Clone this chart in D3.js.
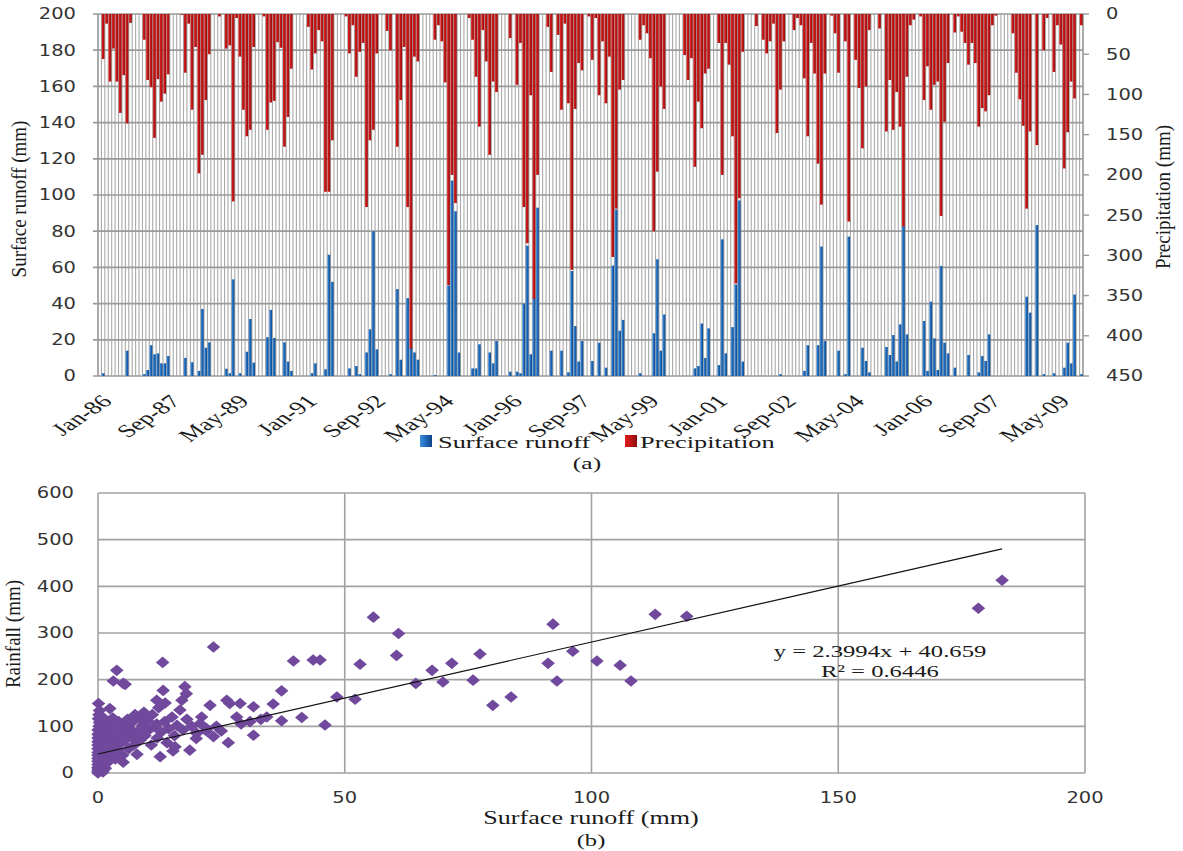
<!DOCTYPE html>
<html>
<head>
<meta charset="utf-8">
<script src="https://cdn.jsdelivr.net/npm/d3@7"></script>
<style>
  body { margin: 0; background: #fff; }
</style>
</head>
<body>
<div id="chart"></div>
<script>
// monthly data Jan-86 .. Dec-09, one line per year (Jan..Dec)
var precipitation = [
  0, 56, 12, 84, 43, 84, 123, 76, 136, 11, 0, 0,
  0, 32, 82, 91, 154, 81, 109, 99, 75, 0, 0, 0,
  1, 73, 12, 119, 41, 198, 175, 107, 50, 0, 0, 3,
  0, 43, 39, 233, 5, 53, 119, 152, 144, 41, 0, 0,
  3, 144, 110, 108, 35, 42, 165, 128, 68, 0, 0, 0,
  0, 16, 69, 49, 20, 34, 221, 221, 157, 0, 0, 0,
  3, 49, 14, 78, 47, 36, 240, 157, 144, 49, 0, 0,
  21, 45, 0, 165, 107, 41, 240, 416, 53, 59, 0, 0,
  0, 0, 32, 14, 34, 85, 337, 200, 235, 0, 0, 0,
  5, 32, 78, 140, 20, 59, 175, 84, 97, 0, 0, 0,
  30, 0, 88, 36, 240, 285, 101, 354, 200, 0, 0, 16,
  72, 0, 26, 119, 12, 111, 318, 118, 61, 70, 0, 3,
  57, 5, 101, 34, 111, 53, 302, 242, 94, 82, 0, 0,
  0, 0, 32, 14, 24, 55, 270, 196, 90, 118, 0, 0,
  0, 0, 0, 51, 82, 55, 190, 109, 142, 74, 68, 0,
  0, 36, 200, 36, 63, 152, 335, 229, 47, 0, 0, 0,
  15, 0, 32, 49, 34, 12, 148, 94, 34, 0, 0, 20,
  5, 14, 80, 152, 36, 74, 186, 237, 74, 0, 2, 24,
  73, 0, 34, 258, 0, 57, 92, 167, 90, 20, 0, 0,
  18, 0, 146, 82, 144, 97, 140, 264, 78, 14, 7, 0,
  3, 107, 65, 119, 88, 84, 251, 134, 61, 0, 23, 3,
  22, 36, 63, 36, 61, 140, 117, 121, 101, 14, 2, 0,
  0, 0, 0, 24, 73, 106, 139, 242, 146, 0, 163, 0,
  45, 5, 0, 72, 14, 38, 192, 147, 84, 105, 0, 14
];

var runoff = [
  0, 1.5, 0, 0, 0, 0, 0, 0, 14, 0, 0, 0,
  0, 1, 3.3, 17, 12, 12.5, 7, 7, 11, 0, 0, 0,
  0, 10, 0, 7.6, 0, 2.8, 37, 15.6, 18.6, 0, 0, 0,
  0, 4, 1.5, 53.4, 0, 1.5, 0, 13.4, 31.5, 7.4, 0, 0,
  0, 21.4, 36.5, 21, 0, 0, 18.6, 8, 2.8, 0, 0, 0,
  0, 0, 1.5, 7, 0, 0, 3.7, 67, 52, 0, 0, 0,
  0, 4.2, 0, 5.5, 1, 0, 13, 25.8, 80, 14.7, 0, 0,
  0, 1, 0, 48, 9, 0, 43, 15.7, 13, 9, 0, 0,
  0, 0, 0.5, 0, 0, 0, 50, 108, 91, 13, 0, 0,
  0, 4.2, 4.2, 17.5, 0, 0, 13, 7, 19.3, 0, 0, 0,
  2.4, 0, 2.4, 1.5, 40, 72, 12, 43, 93, 0, 0, 0,
  14, 0, 0, 14, 0, 2, 58, 27.6, 8, 19.3, 0, 0,
  8.3, 0, 18.4, 0, 4.6, 0, 61, 92, 25, 31, 0, 0,
  0, 0, 1.5, 0, 0, 0, 23.6, 64.5, 14, 34, 0, 0,
  0, 0, 0, 0, 0, 0, 4.2, 5.5, 29, 10, 26.3, 0,
  0, 6, 75.5, 12.5, 0, 27, 50.6, 97, 8, 0, 0, 0,
  0, 0, 0, 0, 0, 0, 0, 1, 0, 0, 0, 0,
  0, 0, 2.8, 17, 0, 0, 17, 71.5, 19.3, 0, 0, 0,
  14, 0, 1, 77, 0, 0, 0, 15.6, 8.3, 2, 0, 0,
  0, 0, 16, 11.6, 22.6, 8, 28.5, 83, 23, 0, 0, 0,
  0, 30.4, 2.8, 41, 20.8, 3.3, 60.8, 18.4, 12.5, 0, 4.6, 0,
  0, 0, 11.6, 0, 0, 2, 11, 8.3, 23, 0, 0, 0,
  0, 0, 0, 0, 0, 0, 0, 43.8, 35, 0, 83.4, 0,
  1, 0, 0, 1.5, 0, 0, 4.6, 18.4, 7, 45, 0, 1
];

// date labels, every 20 months
var tickLabels = ["Jan-86", "Sep-87", "May-89", "Jan-91", "Sep-92", "May-94", "Jan-96",
  "Sep-97", "May-99", "Jan-01", "Sep-02", "May-04", "Jan-06", "Sep-07", "May-09"];
var tickStep = 20;

// scatter (b): [surface runoff, rainfall]
var scatterPoints = [
  [0, 0], [0, 3], [0, 8], [0, 12], [0, 18], [0, 25], [0, 31], [0, 38], [0, 44], [0, 52],
  [0, 60], [0, 67], [0, 75], [0, 83], [0, 92], [0.2, 100], [0.3, 108], [0.1, 116], [0.2, 125],
  [0.3, 134], [0.1, 149], [0.5, 5], [0.5, 15], [0.6, 28], [0.4, 40], [0.6, 55], [0.5, 70],
  [0.7, 88], [0.8, 98], [0.6, 112], [0.9, 120], [1, 2], [1, 20], [1.1, 35], [1.2, 48], [1, 62],
  [1.2, 78], [1.3, 95], [1.1, 105], [1.4, 85], [1.5, 10], [1.6, 30], [1.8, 45], [1.5, 58],
  [1.7, 70], [1.9, 90], [2, 110], [2.2, 25], [2.3, 50], [2.5, 65], [2.4, 80], [2.6, 100],
  [2.4, 138], [2.8, 40], [3, 60], [3.2, 85], [3, 118], [3.5, 30], [3.6, 72], [3.8, 95],
  [4, 50], [4.2, 110], [4.5, 62], [4.8, 80], [5, 38], [5.2, 100], [5.5, 70], [5.8, 88],
  [6, 115], [6.2, 52], [6.5, 95], [6.8, 78], [7, 110], [7.3, 60], [7.5, 125], [8, 88],
  [8.2, 118], [8.5, 70], [9, 102], [9.3, 130], [9.5, 80], [10, 112], [10.3, 92], [10.8, 60],
  [11, 125], [11.5, 100], [12, 75], [12.3, 140], [12.8, 88], [13.5, 110], [14, 65], [14.3, 95],
  [15, 120], [15.5, 80], [16, 102], [17.2, 92], [18, 115], [19, 100], [20, 85], [21, 120],
  [22, 95], [24, 100], [25, 90], [29, 105], [33, 115],
  [3.1, 197], [3.8, 220], [5.1, 192], [5.5, 190], [5.1, 23], [7.9, 40], [5.8, 99], [7.2, 113],
  [8.5, 92], [9.2, 128], [11.9, 105], [12.6, 35], [13.6, 150], [11.9, 156], [13.2, 177],
  [13.1, 237], [15.2, 47], [15.6, 56], [16.6, 135], [17.9, 170], [17, 156], [17.6, 185],
  [18.6, 49], [19.9, 74], [20.7, 106], [22, 90], [23.4, 78], [22.7, 145], [23.4, 270],
  [26.4, 65], [26.1, 156], [26.7, 149], [28.1, 120], [28.8, 149], [30.8, 110], [31.5, 81],
  [31.5, 142], [34.2, 120], [35.5, 148], [37.2, 112], [37.2, 176], [41.3, 119], [39.6, 240],
  [43.6, 242], [45, 242], [46, 103], [52.1, 158], [48.4, 163], [53.1, 233], [60.5, 252],
  [60.9, 299], [55.8, 334], [64.4, 192], [67.7, 220], [69.9, 195], [71.7, 235], [76, 199],
  [77.4, 255], [80, 145], [83.7, 163], [91.2, 235], [92.2, 319], [93, 197], [96.2, 261],
  [101.1, 240], [105.8, 231], [108, 197], [112.9, 340], [119.3, 336], [178.4, 353], [183.2, 413]
];
var slope = 2.3994, intercept = 40.659, rSquared = 0.6446;

var svgWidth = 1183;
var svgHeight = 851;

var svg = d3.select("#chart")
  .append("svg")
  .attr("width", svgWidth)
  .attr("height", svgHeight)
  .style("display", "block");

svg.append("rect").attr("width", svgWidth).attr("height", svgHeight).attr("fill", "#fff");

var serif = "'Liberation Serif', 'Times New Roman', serif";
var sans = "'DejaVu Sans', Verdana, sans-serif";

// text helper, the original text is stretched sideways
function label(g, x, y, s, o) {
  o = o || {};
  var t = g.append("text")
    .attr("transform", "translate(" + x + "," + y + ") scale(" + (o.sx || 1) + ",1)" + (o.rot ? " rotate(" + o.rot + ")" : ""))
    .attr("text-anchor", o.anchor || "middle")
    .attr("font-family", o.font || serif)
    .attr("font-size", o.size || 17)
    .attr("fill", o.fill || "#1a1a1a")
    .text(s);
  if (o.dy) t.attr("dy", o.dy);
  return t;
}

var defs = svg.append("defs");
function gradient(id, stops) {
  var gr = defs.append("linearGradient").attr("id", id)
    .attr("x1", 0).attr("x2", 1).attr("y1", 0).attr("y2", 0);
  stops.forEach(function(s, i) {
    gr.append("stop").attr("offset", i / (stops.length - 1)).attr("stop-color", s);
  });
}
gradient("gRed", ["#e01e1e", "#bf1515", "#860f0f"]);
gradient("gBlue", ["#3d8fde", "#1f68b9", "#0e4584"]);

// ---------- (a) monthly bars ----------
var plotA = { left: 98, right: 1083, top: 14, bottom: 376 };
var months = d3.range(precipitation.length);

var xBand = d3.scaleBand()
  .domain(months)
  .range([plotA.left, plotA.right])
  .paddingInner(0.2)
  .paddingOuter(0.1);

var yRunoff = d3.scaleLinear().domain([0, 200]).range([plotA.bottom, plotA.top]);
var yPrecip = d3.scaleLinear().domain([0, 450]).range([plotA.top, plotA.bottom]);

var chartA = svg.append("g");

// vertical grid at every month boundary
chartA.append("g").selectAll("line")
  .data(d3.range(months.length + 1))
  .enter().append("line")
  .attr("x1", d => plotA.left + d * xBand.step())
  .attr("x2", d => plotA.left + d * xBand.step())
  .attr("y1", plotA.top)
  .attr("y2", plotA.bottom)
  .attr("stroke", "#a9a9a9")
  .attr("stroke-width", 1.1);

// horizontal grid
chartA.append("g").selectAll("line")
  .data(yRunoff.ticks(10))
  .enter().append("line")
  .attr("x1", plotA.left - 5)
  .attr("x2", plotA.right)
  .attr("y1", d => yRunoff(d))
  .attr("y2", d => yRunoff(d))
  .attr("stroke", "#9a9a9a")
  .attr("stroke-width", 1.7);

// right axis ticks
chartA.append("g").selectAll("line")
  .data(yPrecip.ticks(9))
  .enter().append("line")
  .attr("x1", plotA.right)
  .attr("x2", plotA.right + 6)
  .attr("y1", d => yPrecip(d))
  .attr("y2", d => yPrecip(d))
  .attr("stroke", "#9a9a9a")
  .attr("stroke-width", 1.4);

// frame
chartA.append("line").attr("x1", plotA.left).attr("x2", plotA.left)
  .attr("y1", plotA.top).attr("y2", plotA.bottom).attr("stroke", "#9a9a9a").attr("stroke-width", 1.4);
chartA.append("line").attr("x1", plotA.right).attr("x2", plotA.right)
  .attr("y1", plotA.top).attr("y2", plotA.bottom).attr("stroke", "#9a9a9a").attr("stroke-width", 1.4);

// runoff bars from bottom
chartA.append("g").selectAll("rect")
  .data(months.filter(i => runoff[i] > 0))
  .enter().append("rect")
  .attr("x", i => xBand(i))
  .attr("width", xBand.bandwidth())
  .attr("y", i => yRunoff(runoff[i]))
  .attr("height", i => plotA.bottom - yRunoff(runoff[i]))
  .attr("fill", "url(#gBlue)");

// precipitation bars hanging from top
chartA.append("g").selectAll("rect")
  .data(months.filter(i => precipitation[i] > 0))
  .enter().append("rect")
  .attr("x", i => xBand(i))
  .attr("width", xBand.bandwidth())
  .attr("y", plotA.top)
  .attr("height", i => yPrecip(precipitation[i]) - plotA.top)
  .attr("fill", "url(#gRed)");

// left tick labels
yRunoff.ticks(10).forEach(function(d) {
  label(chartA, plotA.left - 22, yRunoff(d), d, { anchor: "end", font: sans, size: 15, sx: 1.3, dy: "0.36em", fill: "#333" });
});
// right tick labels
yPrecip.ticks(9).forEach(function(d) {
  label(chartA, plotA.right + 23, yPrecip(d), d, { anchor: "start", font: sans, size: 15, sx: 1.3, dy: "0.36em", fill: "#333" });
});

// date labels
tickLabels.forEach(function(s, k) {
  var i = k * tickStep;
  label(chartA, xBand(i) + xBand.bandwidth() / 2 + 7, plotA.bottom + 22, s,
    { anchor: "end", size: 18, sx: 1.5, rot: -45, dy: "0.35em" });
});

label(chartA, 26, (plotA.top + plotA.bottom) / 2 + 4, "Surface runoff (mm)", { size: 19, sx: 1.1, rot: -90 });
label(chartA, 1170, (plotA.top + plotA.bottom) / 2 + 2, "Precipitation (mm)", { size: 19, sx: 1.1, rot: -90 });

// legend
var legend = chartA.append("g");
legend.append("rect").attr("x", 420).attr("y", 435).attr("width", 12).attr("height", 12).attr("fill", "url(#gBlue)");
label(legend, 438, 448, "Surface runoff", { anchor: "start", size: 17, sx: 1.55 });
legend.append("rect").attr("x", 625).attr("y", 435).attr("width", 12).attr("height", 12).attr("fill", "url(#gRed)");
label(legend, 640, 448, "Precipitation", { anchor: "start", size: 17, sx: 1.55 });
label(chartA, 587, 469, "(a)", { size: 17, sx: 1.5 });

// ---------- (b) scatter ----------
var plotB = { left: 98, right: 1085, top: 493, bottom: 773 };

var xScatter = d3.scaleLinear().domain([0, 200]).range([plotB.left, plotB.right]);
var yScatter = d3.scaleLinear().domain([0, 600]).range([plotB.bottom, plotB.top]);

var chartB = svg.append("g");

chartB.append("g").selectAll("line")
  .data(yScatter.ticks(6))
  .enter().append("line")
  .attr("x1", plotB.left).attr("x2", plotB.right)
  .attr("y1", d => yScatter(d)).attr("y2", d => yScatter(d))
  .attr("stroke", "#a2a2a2").attr("stroke-width", 1.6);

chartB.append("g").selectAll("line")
  .data(xScatter.ticks(4))
  .enter().append("line")
  .attr("x1", d => xScatter(d)).attr("x2", d => xScatter(d))
  .attr("y1", plotB.top).attr("y2", plotB.bottom)
  .attr("stroke", "#a2a2a2").attr("stroke-width", 1.6);

yScatter.ticks(6).forEach(function(d) {
  label(chartB, plotB.left - 24, yScatter(d), d, { anchor: "end", font: sans, size: 15, sx: 1.3, dy: "0.36em", fill: "#333" });
});
xScatter.ticks(4).forEach(function(d) {
  label(chartB, xScatter(d), plotB.bottom + 30, d, { font: sans, size: 15, sx: 1.3, fill: "#333" });
});

// diamonds
chartB.append("g").selectAll("path")
  .data(scatterPoints)
  .enter().append("path")
  .attr("d", "M0,-5.8L6.8,0L0,5.8L-6.8,0Z")
  .attr("transform", d => "translate(" + xScatter(d[0]) + "," + yScatter(d[1]) + ")")
  .attr("fill", "#71499c");

// trend line
var xMax = d3.max(scatterPoints, d => d[0]);
var trend = d3.line()
  .x(d => xScatter(d))
  .y(d => yScatter(slope * d + intercept));
chartB.append("path")
  .datum([0, xMax])
  .attr("d", trend)
  .attr("fill", "none")
  .attr("stroke", "#111")
  .attr("stroke-width", 1.2);

label(chartB, 880, 657, "y = " + slope + "x + " + intercept, { size: 17, sx: 1.45 });
label(chartB, 880, 677, "R\u00b2 = " + rSquared, { size: 17, sx: 1.45 });

label(chartB, 20, (plotB.top + plotB.bottom) / 2 + 1, "Rainfall (mm)", { size: 19, sx: 1.1, rot: -90 });
label(chartB, 591, 824, "Surface runoff (mm)", { size: 18, sx: 1.45 });
label(chartB, 591, 846, "(b)", { size: 17, sx: 1.45 });
</script>
</body>
</html>
